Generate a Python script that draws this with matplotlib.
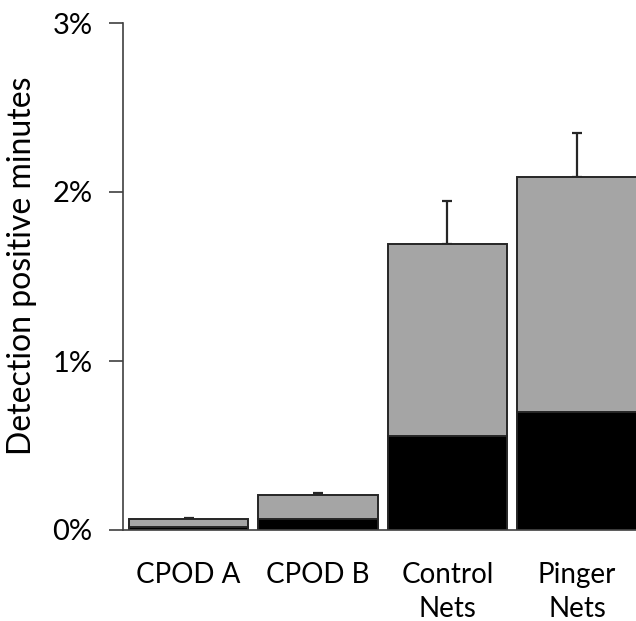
import matplotlib
matplotlib.use('Agg')
import matplotlib.pyplot as plt
from matplotlib.ticker import FuncFormatter

# Chart values (percent of minutes)
categories = ['CPOD A', 'CPOD B', 'Control\nNets', 'Pinger\nNets']
lower_part = [0.015, 0.065, 0.555, 0.70]
total = [0.065, 0.21, 1.69, 2.09]
error_up = [0.006, 0.008, 0.255, 0.26]
y_ticks = [0, 1, 2, 3]

upper_part = [t - l for t, l in zip(total, lower_part)]
x = list(range(len(categories)))

plt.rcParams['font.family'] = ['Lato', 'DejaVu Sans']

fig = plt.figure(figsize=(6.36, 6.21), dpi=100)
ax = fig.add_axes([123 / 636, 91 / 621, 1 - 123 / 636, (530 - 23) / 621])

edge = '#262626'
# error bars first so they sit behind the bar outline
ax.errorbar(x, total, yerr=[[0] * len(x), error_up], fmt='none',
            ecolor=edge, elinewidth=1.6, capsize=3.5, capthick=1.6, zorder=1)
ax.bar(x, lower_part, width=0.92, color='black', edgecolor=edge,
       linewidth=1.4, zorder=2)
ax.bar(x, upper_part, bottom=lower_part, width=0.92, color='#A5A5A5',
       edgecolor=edge, linewidth=1.4, zorder=2)

ax.set_xlim(-0.506, 3.456)
ax.set_ylim(0, 3)
ax.set_yticks(y_ticks)
ax.yaxis.set_major_formatter(FuncFormatter(lambda v, p: f'{v:.0f}%'))
ax.set_xticks(x)
ax.set_xticklabels(categories, fontsize=20, linespacing=1.4)
ax.tick_params(axis='x', length=0, pad=23)
ax.tick_params(axis='y', direction='out', length=10, width=1.2,
               color='#404040', labelsize=21, pad=12)
ax.set_ylabel('Detection positive minutes', fontsize=23, labelpad=11, y=0.522)

for side in ['top', 'right']:
    ax.spines[side].set_visible(False)
for side in ['left', 'bottom']:
    ax.spines[side].set_color('#404040')
    ax.spines[side].set_linewidth(1.2)

plt.savefig('out.png', dpi=100)
plt.close()
